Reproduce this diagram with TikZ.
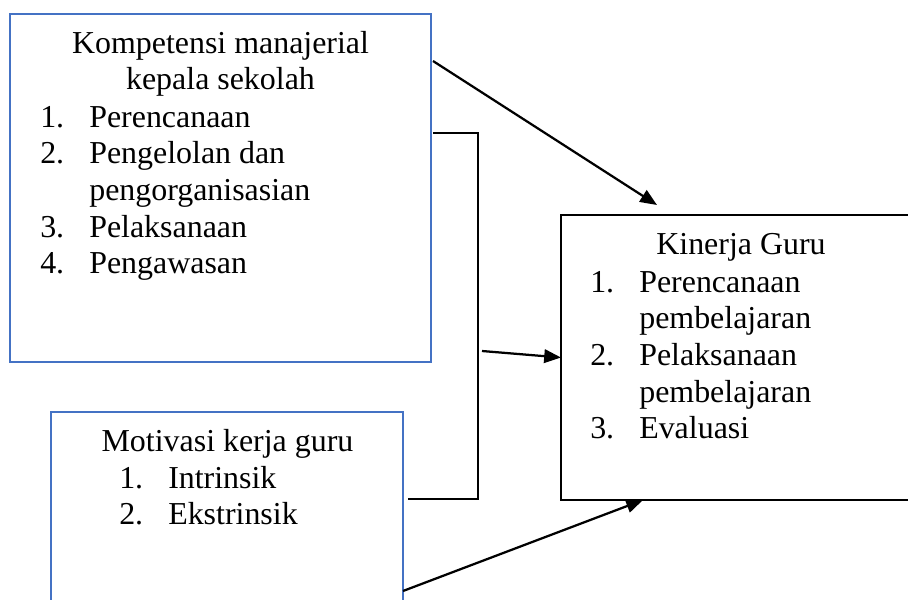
\documentclass[tikz,border=0pt]{standalone}
\usepackage{fontspec}
\setmainfont{Liberation Serif}
\usepackage{xcolor}
\usepackage{tikz}
\usetikzlibrary{arrows.meta}
\definecolor{boxblue}{HTML}{4472C4}

\begin{document}
\begin{tikzpicture}[x=0.025cm, y=-0.025cm,
	bluebox/.style={draw=boxblue, line width=1.6pt, anchor=north west, inner sep=0pt, outer sep=0pt},
	blackbox/.style={draw=black, line width=1.9pt, anchor=north west, inner sep=0pt, outer sep=0pt},
	head/.style={anchor=base, inner sep=0pt},
	items/.style={anchor=base west, inner sep=0pt},
	arr/.style={line width=1.6pt, -{Triangle[length=0.42cm, width=0.34cm]}},
	joint/.style={line width=0.9pt},
	font=\fontsize{22.7}{26.08}\selectfont]
	\useasboundingbox (0,0) rectangle (908,599);
	\clip (0,0) rectangle (908,599);
	\node[bluebox, minimum width=10.525cm, minimum height=8.7cm] (komp) at (10,14) {};
	\node[bluebox, minimum width=8.8cm, minimum height=7.5cm] (motiv) at (51,412) {};
	\node[blackbox, minimum width=9.975cm, minimum height=7.125cm] (kinerja) at (561,215) {};
	\node[head] (kompHead) at (220.5,53) {Kompetensi manajerial};
	\node[head] (kompSub) at (220.5,89) {kepala sekolah};
	\node[items] (kompList) at (40,127) {\begin{tabular}[t]{@{}p{1.225cm}@{}l@{}}
		1. & Perencanaan\\
		2. & Pengelolan dan\\
		   & pengorganisasian\\
		3. & Pelaksanaan\\
		4. & Pengawasan
	\end{tabular}};
	\node[head] (motivHead) at (227.5,451) {Motivasi kerja guru};
	\node[items] (motivList) at (119,488) {\begin{tabular}[t]{@{}p{1.225cm}@{}l@{}}
		1. & Intrinsik\\
		2. & Ekstrinsik
	\end{tabular}};
	\node[head] (kinerjaHead) at (741,254) {Kinerja Guru};
	\node[items] (kinerjaList) at (590,292) {\begin{tabular}[t]{@{}p{1.225cm}@{}l@{}}
		1. & Perencanaan\\
		   & pembelajaran\\
		2. & Pelaksanaan\\
		   & pembelajaran\\
		3. & Evaluasi
	\end{tabular}};
	\coordinate (kompOut) at (433,61);
	\coordinate (kinerjaTop) at (657,205);
	\coordinate (jTop) at (433,133);
	\coordinate (jRight) at (478,316);
	\coordinate (jBot) at (408,499);
	\coordinate (jOut) at (482,351);
	\coordinate (motivOut) at (403,591);
	\coordinate (kinerjaBot) at (643,500);
	\draw[joint] (jTop) -| (jRight) |- (jBot);
	\draw[arr] (kompOut) -- (kinerjaTop);
	\draw[arr] (jOut) -- (kinerja.west);
	\draw[arr] (motivOut) -- (kinerjaBot);
\end{tikzpicture}
\end{document}
